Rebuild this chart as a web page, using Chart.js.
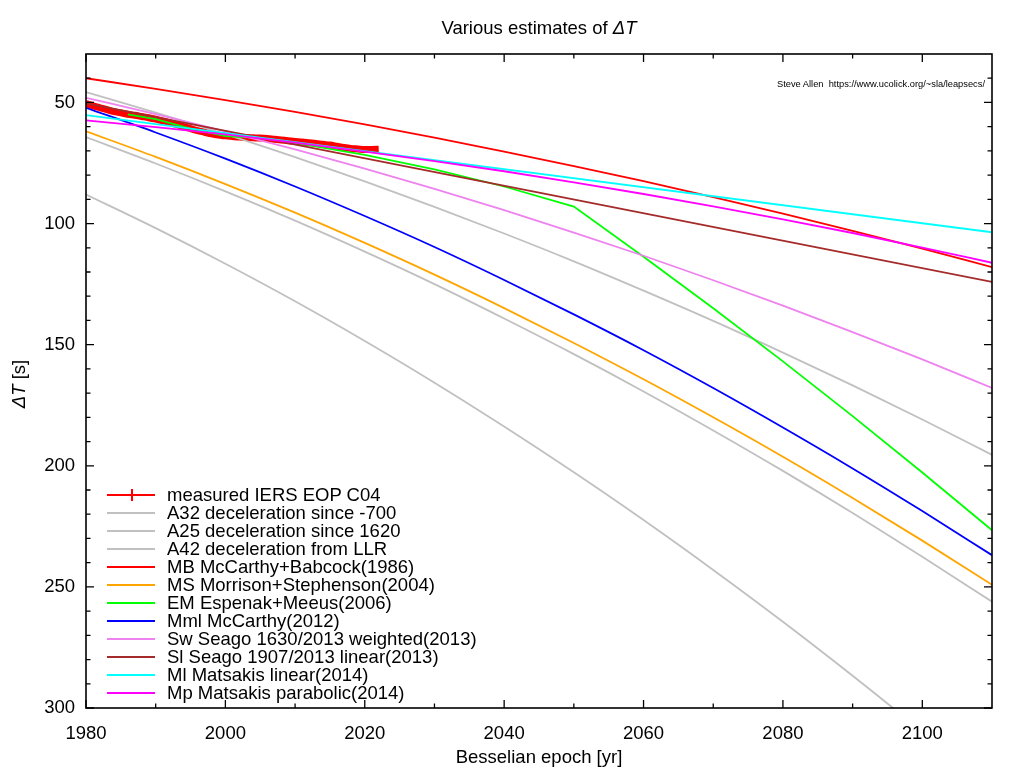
<!DOCTYPE html>
<html>
<head>
<meta charset="utf-8">
<title>Various estimates of ΔT</title>
<script src="https://cdn.jsdelivr.net/npm/chart.js@4.4.1/dist/chart.umd.min.js"></script>
<style>
  body { margin: 0; background: #fff; }
  #wrap { position: relative; width: 1024px; height: 768px; font-family: "Liberation Sans", Arial, sans-serif; color: #000; }
  #chart { position: absolute; left: 0; top: 0; }
  .lbl { position: absolute; font-size: 18.5px; line-height: 22px; white-space: nowrap; }
  #title { left: 289px; width: 500px; top: 17px; text-align: center; }
  #xtitle { left: 289px; width: 500px; top: 746px; text-align: center; }
  #ytitle { left: -31px; width: 100px; top: 373px; text-align: center; transform: rotate(-90deg); }
  #credit { position: absolute; right: 39px; top: 79px; font-size: 9.3px; line-height: 11px; white-space: nowrap; }
  .row { position: absolute; left: 107px; height: 22px; width: 400px; }
  .row .sample { position: absolute; left: 0; top: 10px; width: 48px; height: 2px; }
  .row .tick { position: absolute; left: 24px; top: 5px; width: 2px; height: 12px; }
  .row .text { position: absolute; left: 60px; top: 0; font-size: 18.5px; line-height: 22px; white-space: nowrap; }
</style>
</head>
<body>
<div id="wrap">
  <canvas id="chart" width="1024" height="768"></canvas>
  <div id="title" class="lbl">Various estimates of <i>ΔT</i></div>
  <div id="xtitle" class="lbl">Besselian epoch [yr]</div>
  <div id="ytitle" class="lbl"><i>ΔT</i> [s]</div>
  <div id="credit">Steve Allen&nbsp; https://www.ucolick.org/~sla/leapsecs/</div>
  <div id="legend"></div>
</div>
<script>
// axis ticks
const xTicks = [1980, 2000, 2020, 2040, 2060, 2080, 2100];
const xMinor = [1990, 2010, 2030, 2050, 2070, 2090];
const yTicks = [50, 100, 150, 200, 250, 300];
const yMinor = [40, 60, 70, 80, 90, 110, 120, 130, 140, 160, 170, 180, 190, 210, 220, 230, 240, 260, 270, 280, 290];

// measured dT, one value per year
const measYears = [1980, 1981, 1982, 1983, 1984, 1985, 1986, 1987, 1988, 1989, 1990, 1991, 1992, 1993, 1994,
  1995, 1996, 1997, 1998, 1999, 2000, 2001, 2002, 2003, 2004, 2005, 2006, 2007, 2008, 2009, 2010,
  2011, 2012, 2013, 2014, 2015, 2016, 2017, 2018, 2019, 2020, 2021, 2022];
const measured = [50.5, 51.4, 52.2, 53.0, 53.8, 54.3, 54.9, 55.3, 55.8, 56.3, 56.9, 57.6, 58.3, 59.1, 60.0,
  60.8, 61.6, 62.3, 63.0, 63.5, 63.8, 64.1, 64.3, 64.5, 64.6, 64.7, 64.9, 65.2, 65.5, 65.8, 66.1,
  66.3, 66.6, 66.9, 67.3, 67.6, 68.1, 68.6, 69.0, 69.2, 69.4, 69.4, 69.3];

// model curves read every decade
const decades = [1980, 1990, 2000, 2010, 2020, 2030, 2040, 2050, 2060, 2070, 2080, 2090, 2100, 2110];
const a32 = [64.3, 75.2, 86.7, 98.8, 111.6, 125.0, 139.2, 153.9, 169.3, 185.4, 202.1, 219.5, 237.6, 256.1];
const a25 = [45.7, 54.2, 63.1, 72.6, 82.6, 93.1, 104.1, 115.6, 127.7, 140.2, 153.3, 166.8, 180.9, 195.5];
const a42 = [88.0, 101.9, 116.6, 132.1, 148.5, 165.7, 183.8, 202.7, 222.4, 243.0, 264.4, 286.7, 309.8, 333.7];
const mb = [40.0, 44.4, 49.0, 53.9, 59.1, 64.5, 70.3, 76.3, 82.5, 89.1, 95.9, 103.0, 110.3, 118.0];
const ms = [61.9, 72.5, 83.7, 95.5, 108.0, 121.1, 134.9, 149.3, 164.3, 180.0, 196.3, 213.3, 230.9, 249.1];
const mml = [52.2, 62.4, 73.2, 84.7, 96.9, 109.7, 123.3, 137.5, 152.3, 167.9, 184.2, 201.1, 218.7, 236.9];
const sw = [48.1, 54.8, 61.9, 69.4, 77.3, 85.7, 94.5, 103.7, 113.3, 123.4, 133.9, 144.8, 156.1, 167.9];
const mp = [57.4, 60.2, 63.2, 66.6, 70.3, 74.2, 78.4, 83.0, 87.8, 92.9, 98.3, 103.9, 109.9, 116.2];

const emYears = [1986, 1990, 1995, 2000, 2005, 2010, 2020, 2030, 2040, 2050, 2060, 2070, 2080, 2090, 2100, 2110];
const em = [54.9, 56.9, 60.8, 63.9, 64.7, 66.7, 71.6, 77.6, 84.7, 93.0, 113.7, 135.0, 156.9, 179.5, 202.8, 226.6];

const endYears = [1980, 2110];
const sl = [50.4, 124.1];
const ml = [55.2, 103.6];

function pts(xs, ys) {
    return xs.map((x, i) => ({x: x, y: ys[i]}));
}

const series = [
    {label: 'measured IERS EOP C04', data: pts(measYears, measured), color: '#ff0000'},
    {label: 'A32 deceleration since -700', data: pts(decades, a32), color: '#c0c0c0'},
    {label: 'A25 deceleration since 1620', data: pts(decades, a25), color: '#c0c0c0'},
    {label: 'A42 deceleration from LLR', data: pts(decades, a42), color: '#c0c0c0'},
    {label: 'MB McCarthy+Babcock(1986)', data: pts(decades, mb), color: '#ff0000'},
    {label: 'MS Morrison+Stephenson(2004)', data: pts(decades, ms), color: '#ffa500'},
    {label: 'EM Espenak+Meeus(2006)', data: pts(emYears, em), color: '#00ff00', straight: true},
    {label: 'Mml McCarthy(2012)', data: pts(decades, mml), color: '#0000ff'},
    {label: 'Sw Seago 1630/2013 weighted(2013)', data: pts(decades, sw), color: '#ee82ee'},
    {label: 'Sl Seago 1907/2013 linear(2013)', data: pts(endYears, sl), color: '#a52a2a'},
    {label: 'Ml Matsakis linear(2014)', data: pts(endYears, ml), color: '#00ffff'},
    {label: 'Mp Matsakis parabolic(2014)', data: pts(decades, mp), color: '#ff00ff'}
];

const datasets = series.map((s, i) => {
    const d = {
        label: s.label,
        data: s.data,
        borderColor: s.color,
        backgroundColor: s.color,
        borderWidth: 1.8,
        pointRadius: 0,
        fill: false,
        order: series.length - i,
        cubicInterpolationMode: s.straight ? 'default' : 'monotone',
        tension: 0
    };
    if (i === 0) {
        // measured values: dense error bars merge into a thick band
        d.borderWidth = 7;
        d.borderCapStyle = 'butt';
        d.borderJoinStyle = 'round';
    }
    return d;
});

// gnuplot style frame with inward ticks on all four sides
const frame = {
    id: 'frame',
    afterDatasetsDraw(chart) {
        const ctx = chart.ctx;
        const a = chart.chartArea;
        const x = chart.scales.x;
        const y = chart.scales.y;
        ctx.save();
        ctx.strokeStyle = '#000';
        ctx.lineWidth = 1.3;
        ctx.beginPath();
        const xt = (v, len) => {
            const px = x.getPixelForValue(v);
            ctx.moveTo(px, a.bottom); ctx.lineTo(px, a.bottom - len);
            ctx.moveTo(px, a.top); ctx.lineTo(px, a.top + len);
        };
        const yt = (v, len) => {
            const py = y.getPixelForValue(v);
            ctx.moveTo(a.left, py); ctx.lineTo(a.left + len, py);
            ctx.moveTo(a.right, py); ctx.lineTo(a.right - len, py);
        };
        xTicks.forEach(v => xt(v, 8));
        xMinor.forEach(v => xt(v, 4.5));
        yTicks.forEach(v => yt(v, 8));
        yMinor.forEach(v => yt(v, 4.5));
        ctx.stroke();
        ctx.lineWidth = 1.6;
        ctx.strokeRect(a.left, a.top, a.right - a.left, a.bottom - a.top);
        ctx.restore();
    }
};

const chart = new Chart(document.getElementById('chart'), {
    type: 'line',
    data: {datasets: datasets},
    options: {
        responsive: false,
        animation: false,
        layout: {padding: {top: 54, right: 32, left: 0, bottom: 0}},
        plugins: {legend: {display: false}, title: {display: false}, tooltip: {enabled: false}},
        scales: {
            x: {
                type: 'linear',
                min: 1980,
                max: 2110,
                afterBuildTicks: s => { s.ticks = xTicks.map(v => ({value: v})); },
                afterFit: s => { s.height = 60; },
                grid: {display: false, drawTicks: false},
                border: {display: false},
                ticks: {
                    color: '#000',
                    padding: 15,
                    maxRotation: 0,
                    autoSkip: false,
                    callback: v => String(v),
                    font: {family: '"Liberation Sans", Arial, sans-serif', size: 18.5}
                }
            },
            y: {
                type: 'linear',
                reverse: true,
                min: 30,
                max: 300,
                afterBuildTicks: s => { s.ticks = yTicks.map(v => ({value: v})); },
                afterFit: s => { s.width = 86; },
                grid: {display: false, drawTicks: false},
                border: {display: false},
                ticks: {
                    color: '#000',
                    padding: 11,
                    autoSkip: false,
                    callback: v => String(v),
                    font: {family: '"Liberation Sans", Arial, sans-serif', size: 18.5}
                }
            }
        }
    },
    plugins: [frame]
});

// legend inside the plot, gnuplot style
const legend = document.getElementById('legend');
chart.data.datasets.forEach((ds, i) => {
    const row = document.createElement('div');
    row.className = 'row';
    row.style.top = (484 + 18 * i) + 'px';
    const sample = document.createElement('span');
    sample.className = 'sample';
    sample.style.background = ds.borderColor;
    row.appendChild(sample);
    if (i === 0) {
        const tick = document.createElement('span');
        tick.className = 'tick';
        tick.style.background = ds.borderColor;
        row.appendChild(tick);
    }
    const text = document.createElement('span');
    text.className = 'text';
    text.textContent = ds.label;
    row.appendChild(text);
    legend.appendChild(row);
});
</script>
</body>
</html>
